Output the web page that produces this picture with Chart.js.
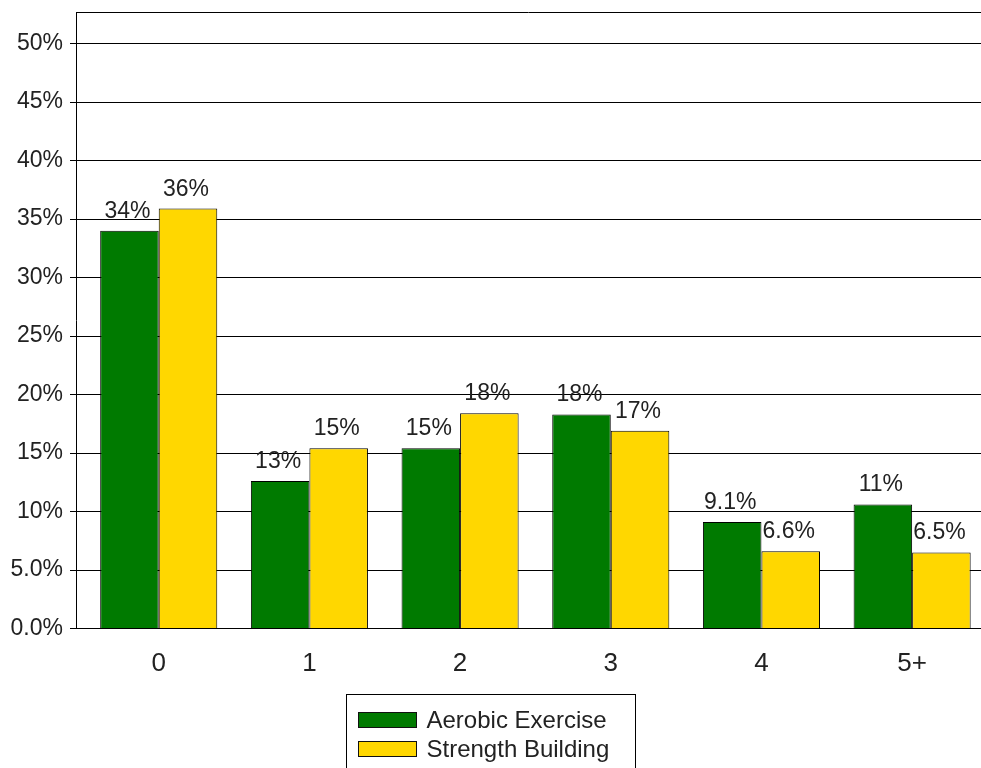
<!DOCTYPE html>
<html>
<head>
<meta charset="utf-8">
<script src="https://cdn.jsdelivr.net/npm/chart.js@4/dist/chart.umd.min.js"></script>
<style>
  html, body { margin: 0; padding: 0; background: #fff; overflow: hidden; }
  canvas { display: block; }
</style>
</head>
<body>
<canvas id="chart" width="981" height="768"></canvas>
<script>
// Days per week of exercise, share of respondents (%)
const categories = ['0', '1', '2', '3', '4', '5+'];
const aerobic = [34.0, 12.6, 15.4, 18.3, 9.1, 10.6];
const strength = [35.9, 15.4, 18.4, 16.9, 6.6, 6.5];
const yTicks = [0, 5, 10, 15, 20, 25, 30, 35, 40, 45, 50];

const FONT = '"Liberation Sans", Arial, Helvetica, sans-serif';
const INK = '#222';

function pct(v) {
  return v === 0 ? '0.0%' : v.toPrecision(2) + '%';
}

// top frame line of the plot
const frameTop = {
  id: 'frameTop',
  beforeDatasetsDraw(chart) {
    const { ctx, chartArea: a } = chart;
    ctx.save();
    ctx.strokeStyle = '#000';
    ctx.lineWidth = 1;
    const y = Math.round(a.top) + 0.5;
    ctx.beginPath();
    ctx.moveTo(a.left, y);
    ctx.lineTo(a.right, y);
    ctx.stroke();
    ctx.restore();
  }
};

// value labels above each bar
const valueLabels = {
  id: 'valueLabels',
  afterDatasetsDraw(chart) {
    const { ctx } = chart;
    ctx.save();
    ctx.font = '23px ' + FONT;
    ctx.fillStyle = INK;
    ctx.textAlign = 'center';
    ctx.textBaseline = 'alphabetic';
    chart.data.datasets.forEach((ds, di) => {
      const meta = chart.getDatasetMeta(di);
      meta.data.forEach((bar, i) => {
        const v = ds.data[i].y;
        ctx.fillText(pct(v), bar.x - 2, bar.y - 13);
      });
    });
    ctx.restore();
  }
};

// boxed legend below the axis, one series per row
const boxLegend = {
  id: 'boxLegend',
  afterDraw(chart) {
    const { ctx } = chart;
    const sets = chart.data.datasets;
    ctx.save();
    ctx.font = '24px ' + FONT;
    const textW = Math.max(...sets.map(d => ctx.measureText(d.label).width));
    const sw = 58, sh = 15;
    const boxW = Math.round(12 + sw + 10 + textW + 26);
    const left = Math.round((chart.width - boxW) / 2) + 0.5;
    const top = Math.round(chart.chartArea.bottom + 65) + 0.5;
    ctx.strokeStyle = '#000';
    ctx.lineWidth = 1;
    ctx.strokeRect(left, top, boxW, chart.height - top + 10);
    sets.forEach((d, i) => {
      const sy = Math.round(top + 17 + i * 29) + 0.5;
      const sx = Math.round(left + 11) + 0.5;
      ctx.fillStyle = d.backgroundColor;
      ctx.fillRect(sx, sy, sw, sh);
      ctx.strokeStyle = '#111';
      ctx.strokeRect(sx, sy, sw, sh);
      ctx.fillStyle = INK;
      ctx.textAlign = 'left';
      ctx.textBaseline = 'middle';
      ctx.fillText(d.label, sx + sw + 10, sy + sh / 2 + 1);
    });
    ctx.restore();
  }
};

new Chart(document.getElementById('chart'), {
  type: 'bar',
  data: {
    datasets: [
      {
        label: 'Aerobic Exercise',
        data: aerobic.map((v, i) => ({ x: i, y: v })),
        backgroundColor: '#007a00',
        borderColor: '#000',
        borderWidth: 1
      },
      {
        label: 'Strength Building',
        data: strength.map((v, i) => ({ x: i, y: v })),
        backgroundColor: '#ffd700',
        borderColor: '#000',
        borderWidth: 1
      }
    ]
  },
  options: {
    responsive: false,
    animation: false,
    devicePixelRatio: 1,
    layout: { padding: { top: 12, right: 0, bottom: 89.5, left: 0 } },
    datasets: {
      bar: { categoryPercentage: 0.777, barPercentage: 1.0 }
    },
    plugins: {
      legend: { display: false },
      tooltip: { enabled: false }
    },
    scales: {
      x: {
        type: 'linear',
        bounds: 'data',
        offset: false,
        min: -0.549,
        max: 5.457,
        afterBuildTicks(scale) {
          scale.ticks = categories.map((c, i) => ({ value: i }));
        },
        afterFit(scale) { scale.height = 50; scale.paddingLeft = 0; scale.paddingRight = 0; },
        grid: { display: false, drawTicks: false },
        border: { display: false },
        ticks: {
          autoSkip: false,
          maxRotation: 0,
          padding: 20,
          color: INK,
          font: { family: FONT, size: 26 },
          callback: (v) => categories[v] ?? ''
        }
      },
      y: {
        type: 'linear',
        bounds: 'data',
        min: 0,
        max: 52.7,
        afterBuildTicks(scale) {
          scale.ticks = yTicks.map(v => ({ value: v }));
        },
        afterFit(scale) { scale.width = 76; scale.paddingTop = 0; scale.paddingBottom = 0; },
        grid: { color: '#000', lineWidth: 1, tickLength: 6, drawTicks: true },
        border: { display: true, color: '#000', width: 1 },
        ticks: {
          padding: 7,
          color: INK,
          font: { family: FONT, size: 23 },
          callback: (v) => pct(v)
        }
      }
    }
  },
  plugins: [frameTop, valueLabels, boxLegend]
});
</script>
</body>
</html>
